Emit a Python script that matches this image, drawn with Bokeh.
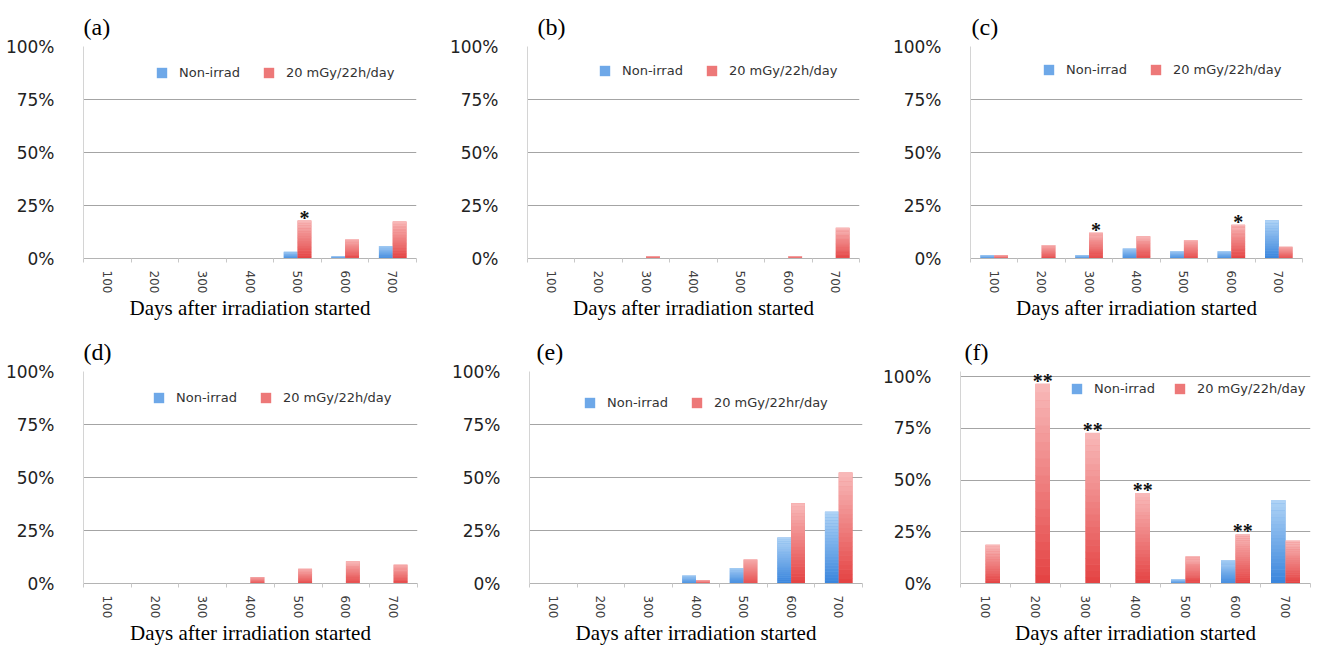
import numpy as np
from bokeh.plotting import figure
from bokeh.models import (Range1d, FixedTicker, ColumnDataSource, Legend, LegendItem,
                          LabelSet, PrintfTickFormatter)
from bokeh.layouts import row, column
from bokeh.embed import file_html
from bokeh.resources import INLINE

# ---------------- data ----------------
days = ["100", "200", "300", "400", "500", "600", "700"]
y_ticks = [0, 25, 50, 75, 100]

a_non = [0, 0, 0, 0, 3.2, 1.1, 5.9]
a_irr = [0, 0, 0, 0, 17.9, 9.0, 17.4]
a_stars = ["", "", "", "", "*", "", ""]

b_non = [0, 0, 0, 0, 0, 0, 0]
b_irr = [0, 0, 1.2, 0, 0, 1.2, 14.5]
b_stars = ["", "", "", "", "", "", ""]

c_non = [1.6, 0, 1.6, 4.7, 3.4, 3.4, 18.0]
c_irr = [1.6, 6.3, 12.2, 10.5, 8.6, 15.9, 5.5]
c_stars = ["", "", "*", "", "", "*", ""]

d_non = [0, 0, 0, 0, 0, 0, 0]
d_irr = [0, 0, 0, 3.1, 6.9, 10.5, 8.9]
d_stars = ["", "", "", "", "", "", ""]

e_non = [0, 0, 0, 3.8, 7.3, 21.7, 33.9]
e_irr = [0, 0, 0, 1.6, 11.3, 37.8, 52.3]
e_stars = ["", "", "", "", "", "", ""]

f_non = [0, 0, 0, 0, 2.0, 11.2, 40.3]
f_irr = [18.7, 96.5, 72.8, 43.7, 13.1, 23.7, 20.7]
f_stars = ["", "**", "**", "**", "", "**", ""]

panel_tags = ["(a)", "(b)", "(c)", "(d)", "(e)", "(f)"]
non_label = "Non-irrad"
irr_labels = ["20 mGy/22h/day", "20 mGy/22h/day", "20 mGy/22h/day",
              "20 mGy/22h/day", "20 mGy/22hr/day", "20 mGy/22h/day"]
x_title = "Days after irradiation started"

series = [(a_non, a_irr, a_stars), (b_non, b_irr, b_stars), (c_non, c_irr, c_stars),
          (d_non, d_irr, d_stars), (e_non, e_irr, e_stars), (f_non, f_irr, f_stars)]

# ---------------- layout / style ----------------
# width, height, left, right, top, bottom, title_offset, legend dx, legend dy, y_end, legend spacing
geo = [
    (440, 325, 83, 24, 46, 67, 0, 72, 21, 100, 22),
    (437, 325, 87, 18, 46, 67, 10, 71, 19, 100, 22),
    (440, 325, 93, 15, 46, 67, 1, 72, 18, 100, 22),
    (440, 323, 83, 23, 46, 65, 0, 69, 21, 100, 22),
    (437, 323, 89, 15, 46, 65, 7, 54, 26, 100, 22),
    (440, 323, 83, 7, 46, 65, 4, 110, 12, 102.5, 18),
]

BLUE_TOP, BLUE_BOT = (176, 212, 246), (56, 132, 220)
RED_TOP, RED_BOT = (248, 186, 186), (228, 66, 66)
BAR_W = 0.29
N_STRIPS = 24


def hexc(c):
    return "#%02x%02x%02x" % tuple(int(round(v)) for v in c)


def mix(c1, c2, t):
    return tuple(a + (b - a) * t for a, b in zip(c1, c2))


def gradient_source(xs, vals, top_c, bot_c):
    x, b, t, col = [], [], [], []
    for xi, v in zip(xs, vals):
        if v <= 0:
            continue
        for k in range(N_STRIPS):
            x.append(xi)
            b.append(v * k / N_STRIPS)
            t.append(v * (k + 1) / N_STRIPS + v * 0.002)
            col.append(hexc(mix(bot_c, top_c, (k + 0.5) / N_STRIPS)))
    return ColumnDataSource(dict(x=x, bottom=b, top=t, color=col))


figs = []
for idx, ((non, irr, stars), tag, irr_lab, g) in enumerate(zip(series, panel_tags, irr_labels, geo)):
    W, H, L, R, T, B, toff, ldx, ldy, yend, lsp = g
    frame_h = H - T - B
    p = figure(width=W, height=H, output_backend="svg", toolbar_location=None,
               x_range=Range1d(0, len(days)), y_range=Range1d(0, yend),
               min_border_left=L, min_border_right=R, min_border_top=T, min_border_bottom=B,
               title=tag)
    p.outline_line_color = None
    p.background_fill_color = "white"
    p.border_fill_color = "white"

    p.title.text_font = "Liberation Serif"
    p.title.text_font_size = "24px"
    p.title.text_font_style = "normal"
    p.title.text_color = "#000000"
    p.title.align = "left"
    p.title.offset = toff
    p.title.standoff = 14

    centers = [i + 0.5 for i in range(len(days))]
    x_non = [c - BAR_W / 2 for c in centers]
    x_irr = [c + BAR_W / 2 for c in centers]

    # base bars (used for legend swatches)
    base_non = p.vbar(x=x_non, top=non, width=BAR_W, bottom=0,
                      fill_color=hexc(mix(BLUE_BOT, BLUE_TOP, 0.45)), line_color=None)
    base_irr = p.vbar(x=x_irr, top=irr, width=BAR_W, bottom=0,
                      fill_color=hexc(mix(RED_BOT, RED_TOP, 0.45)), line_color=None)
    # gradient overlay
    p.vbar(x="x", bottom="bottom", top="top", width=BAR_W, fill_color="color",
           line_color=None, source=gradient_source(x_non, non, BLUE_TOP, BLUE_BOT))
    p.vbar(x="x", bottom="bottom", top="top", width=BAR_W, fill_color="color",
           line_color=None, source=gradient_source(x_irr, irr, RED_TOP, RED_BOT))

    # significance marks
    st_src = ColumnDataSource(dict(x=[x for x, s in zip(x_irr, stars) if s],
                                   y=[v for v, s in zip(irr, stars) if s],
                                   t=[s for s in stars if s]))
    p.add_layout(LabelSet(x="x", y="y", text="t", source=st_src, text_align="center",
                          text_baseline="alphabetic", y_offset=-4,
                          text_font="DejaVu Sans", text_font_size="20px",
                          text_font_style="bold", text_color="#111111"))

    # axes
    xa = p.xaxis[0]
    xa.ticker = FixedTicker(ticks=centers, minor_ticks=list(range(len(days) + 1)))
    xa.major_label_overrides = {c: d for c, d in zip(centers, days)}
    xa.major_label_orientation = "vertical"
    xa.major_tick_line_color = None
    xa.major_tick_out = 0
    xa.major_tick_in = 0
    xa.minor_tick_out = 4
    xa.minor_tick_in = 0
    xa.minor_tick_line_color = "#c8c8c8"
    xa.axis_line_color = "#b4b4b4"
    xa.major_label_standoff = 8
    xa.major_label_text_font = "DejaVu Sans"
    xa.major_label_text_font_size = "12px"
    xa.major_label_text_color = "#404040"
    xa.axis_label = x_title
    xa.axis_label_text_font = "Liberation Serif"
    xa.axis_label_text_font_size = "21px"
    xa.axis_label_text_font_style = "normal"
    xa.axis_label_text_color = "#000000"
    xa.axis_label_standoff = 0

    ya = p.yaxis[0]
    ya.ticker = FixedTicker(ticks=y_ticks)
    ya.formatter = PrintfTickFormatter(format="%d%%")
    ya.major_tick_line_color = None
    ya.minor_tick_line_color = None
    ya.axis_line_color = "#d4d4d4"
    ya.major_label_standoff = 23
    ya.major_label_text_font = "DejaVu Sans"
    ya.major_label_text_font_size = "17px"
    ya.major_label_text_color = "#222222"

    p.xgrid.grid_line_color = None
    p.ygrid.grid_line_color = "#a4a4a4"
    p.ygrid.grid_line_width = 1

    legend = Legend(items=[LegendItem(label=non_label, renderers=[base_non]),
                           LegendItem(label=irr_lab, renderers=[base_irr])],
                    orientation="horizontal",
                    location=(ldx, frame_h - ldy - 13))
    legend.glyph_width = 13
    legend.glyph_height = 13
    legend.label_height = 13
    legend.label_standoff = 11
    legend.spacing = lsp
    legend.padding = 0
    legend.margin = 0
    legend.border_line_color = None
    legend.background_fill_alpha = 0
    legend.label_text_font = "DejaVu Sans"
    legend.label_text_font_size = "13px"
    legend.label_text_color = "#333333"
    p.add_layout(legend)
    figs.append(p)

layout = column(row(figs[0], figs[1], figs[2]), row(figs[3], figs[4], figs[5]))
open("out.html", "w").write(file_html(layout, INLINE))
